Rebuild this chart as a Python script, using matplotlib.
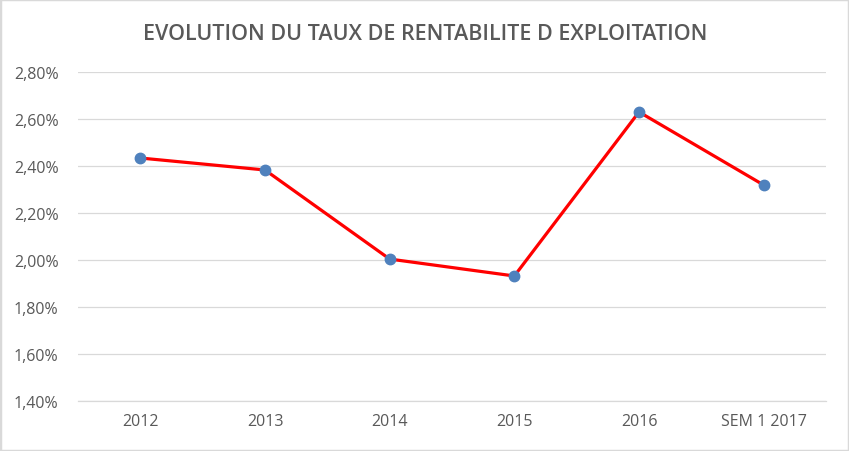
import matplotlib
matplotlib.use("Agg")
import matplotlib.pyplot as plt
from matplotlib.ticker import FuncFormatter
from matplotlib.patches import Rectangle

categories = ["2012", "2013", "2014", "2015", "2016", "SEM 1 2017"]
values = [2.434, 2.383, 2.004, 1.932, 2.630, 2.319]
yticks = [1.40, 1.60, 1.80, 2.00, 2.20, 2.40, 2.60, 2.80]

plt.rcParams['font.family'] = ['Open Sans', 'DejaVu Sans']

W, H = 849, 452
fig = plt.figure(figsize=(W/100, H/100), dpi=100)
ax = fig.add_axes([78/W, 1-402/H, (826-78)/W, (402-73)/H])

x = list(range(len(categories)))
ax.plot(x, values, color='#ff0000', lw=2.3, zorder=3)
ax.plot(x, values, 'o', color='#4f81bd', ms=7.5, zorder=4)

ax.set_xlim(-0.5, len(categories)-0.5)
ax.set_ylim(1.40, 2.80)
ax.set_yticks(yticks)
ax.yaxis.set_major_formatter(FuncFormatter(lambda v, p: f"{v:.2f}".replace('.', ',') + '%'))
ax.set_xticks(x)
ax.set_xticklabels(categories)
ax.grid(axis='y', color='#d9d9d9', lw=0.9)
ax.set_axisbelow(True)
for s in ['top', 'right', 'left']:
    ax.spines[s].set_visible(False)
ax.spines['bottom'].set_color('#d9d9d9')
ax.spines['bottom'].set_linewidth(0.9)
ax.tick_params(axis='both', length=0, colors='#595959', labelsize=11.5)
ax.tick_params(axis='y', pad=14)
ax.tick_params(axis='x', pad=9)

fig.text(425/W, 1-34/H, "EVOLUTION DU TAUX DE RENTABILITE D EXPLOITATION",
         ha='center', va='center', fontsize=15.5, fontweight='semibold', color='#595959')

fig.patches.append(Rectangle((0, 0), 1, 1, transform=fig.transFigure, fill=False,
                             edgecolor='#d9d9d9', lw=2.5))

fig.savefig("out.png", dpi=100)
